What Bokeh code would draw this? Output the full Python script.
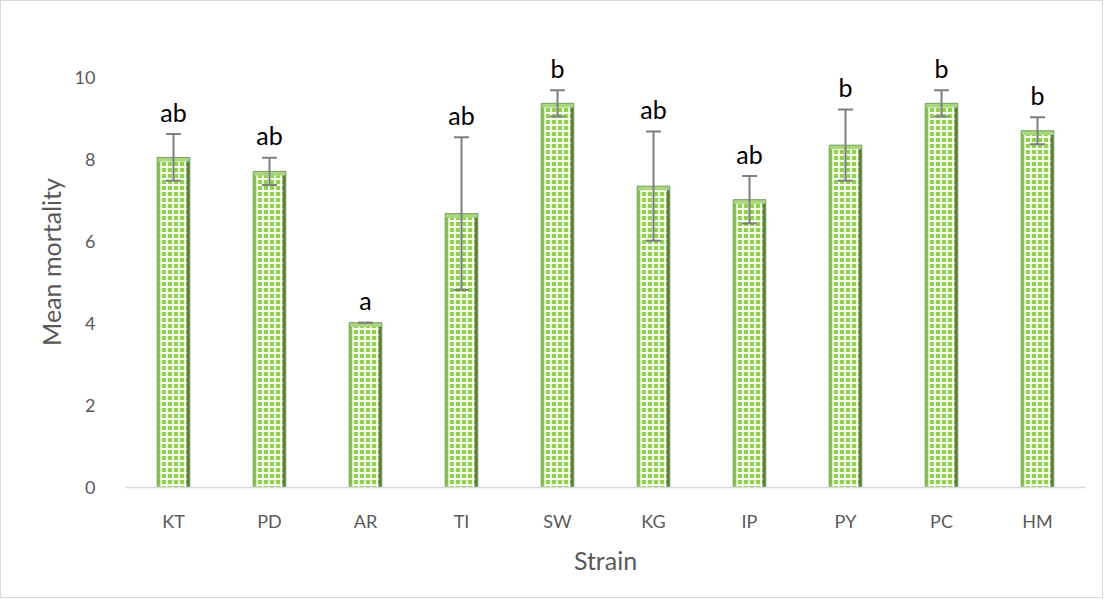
from bokeh.plotting import figure
from bokeh.models import ColumnDataSource, FactorRange, Range1d, FixedTicker, Whisker, TeeHead
from bokeh.transform import dodge
from bokeh.core.properties import value
from bokeh.embed import file_html
from bokeh.resources import INLINE

strains = ["KT", "PD", "AR", "TI", "SW", "KG", "IP", "PY", "PC", "HM"]
mean_mortality = [8.05, 7.71, 4.02, 6.68, 9.37, 7.35, 7.02, 8.35, 9.37, 8.70]
error = [0.57, 0.33, 0.0, 1.86, 0.32, 1.33, 0.58, 0.87, 0.32, 0.33]
letters = ["ab", "ab", "a", "ab", "b", "ab", "ab", "b", "b", "b"]
y_ticks = [0, 2, 4, 6, 8, 10]

upper = [m + e for m, e in zip(mean_mortality, error)]
lower = [m - e for m, e in zip(mean_mortality, error)]
bevel = [m - 0.1 for m in mean_mortality]
label_y = [u + 0.18 for u in upper]

src = ColumnDataSource(dict(strain=strains, mean=mean_mortality, upper=upper,
                            lower=lower, letter=letters, bevel=bevel, label_y=label_y))

FONT = "Lato"
GRAY = "#595959"

p = figure(width=1103, height=598, x_range=FactorRange(*strains), y_range=Range1d(0, 11),
           output_backend="svg", toolbar_location=None,
           min_border_left=124, min_border_right=19, min_border_top=35, min_border_bottom=112)
p.styles = {"border": "1px solid #d9d9d9", "box-sizing": "border-box"}

BW = 0.34
p.vbar(x="strain", top="mean", bottom=0, width=BW, source=src,
       fill_color="#92d050", line_color=None,
       hatch_pattern="cross", hatch_color="white", hatch_alpha=0.9,
       hatch_scale=6, hatch_weight=1.8)
# bevel effect: side strips and top band
p.vbar(x=dodge("strain", -BW / 2 + 0.016, range=p.x_range), top="mean", bottom=0, width=0.032,
       source=src, fill_color="#86b85a", fill_alpha=0.9, line_color=None)
p.vbar(x=dodge("strain", BW / 2 - 0.016, range=p.x_range), top="mean", bottom=0, width=0.032,
       source=src, fill_color="#4b7330", fill_alpha=0.9, line_color=None)
p.vbar(x="strain", top="mean", bottom="bevel", width=BW, source=src,
       fill_color="#a8d77e", line_color=None)
p.vbar(x="strain", top="mean", bottom=0, width=BW, source=src,
       fill_color=None, line_color="#7f9f66", line_width=1)

w = Whisker(source=src, base="strain", upper="upper", lower="lower",
            line_color="#7f7f7f", line_width=2, level="overlay",
            upper_head=TeeHead(size=15, line_color="#7f7f7f", line_width=2),
            lower_head=TeeHead(size=15, line_color="#7f7f7f", line_width=2))
p.add_layout(w)

p.text(x="strain", y="label_y", text="letter", source=src, text_align="center",
       text_baseline="bottom", text_font=value(FONT),
       text_font_size="25px", text_color="black")

p.xgrid.grid_line_color = None
p.ygrid.grid_line_color = None
p.outline_line_color = None

p.yaxis.ticker = FixedTicker(ticks=y_ticks)
p.yaxis.axis_line_color = None
p.yaxis.major_tick_line_color = None
p.yaxis.minor_tick_line_color = None
p.yaxis.major_label_standoff = 24
p.yaxis.axis_label = "Mean mortality"
p.yaxis.axis_label_standoff = 6

p.xaxis.axis_line_color = "#d9d9d9"
p.xaxis.axis_line_width = 1.5
p.xaxis.major_tick_line_color = None
p.xaxis.minor_tick_line_color = None
p.xaxis.major_label_standoff = 16
p.xaxis.axis_label = "Strain"
p.xaxis.axis_label_standoff = 10

for ax in (p.xaxis[0], p.yaxis[0]):
    ax.major_label_text_font = FONT
    ax.major_label_text_font_size = "18px"
    ax.major_label_text_color = GRAY
    ax.axis_label_text_font = FONT
    ax.axis_label_text_font_size = "25px"
    ax.axis_label_text_font_style = "normal"
    ax.axis_label_text_color = GRAY

open("out.html", "w").write(file_html(p, INLINE))
